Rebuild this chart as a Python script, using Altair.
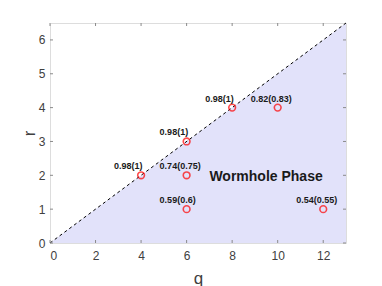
import altair as alt
import pandas as pd

# data
pt_q = [4, 6, 8, 10, 6, 6, 12]
pt_r = [2, 3, 4, 4, 2, 1, 1]
pt_lbl = ["0.98(1)", "0.98(1)", "0.98(1)", "0.82(0.83)", "0.74(0.75)", "0.59(0.6)", "0.54(0.55)"]
line_q = [0, 13]
line_r = [0, 6.5]
xticks = [0, 2, 4, 6, 8, 10, 12]
yticks = [0, 1, 2, 3, 4, 5, 6]
phase_text = ["Wormhole Phase"]
phase_q = [7.0]
phase_r = [1.95]

pts = pd.DataFrame({"q": pt_q, "r": pt_r, "lbl": pt_lbl})
ln = pd.DataFrame({"q": line_q, "r": line_r})
xt = pd.DataFrame({"q": xticks})
yt = pd.DataFrame({"r": yticks})
ph = pd.DataFrame({"q": phase_q, "r": phase_r, "t": phase_text})

FONT = "Liberation Sans"
AX = "#8a8a8a"
LAB = "#404040"

xs = alt.Scale(domain=[0, 13], nice=False, zero=False)
ys = alt.Scale(domain=[0, 6.5], nice=False, zero=False)

xaxis = alt.Axis(values=xticks, ticks=False, domain=False, grid=False, labelOverlap=False,
                 labelFont=FONT, labelFontSize=12, labelColor=LAB, labelPadding=7,
                 title="q", titleFont=FONT, titleFontSize=17, titleFontWeight="normal",
                 titleColor=LAB, titlePadding=9)
yaxis = alt.Axis(values=yticks, ticks=False, domain=False, grid=False, labelOverlap=False,
                 labelFont=FONT, labelFontSize=12, labelColor=LAB, labelPadding=5,
                 title="r", titleFont=FONT, titleFontSize=17, titleFontWeight="normal",
                 titleColor=LAB, titlePadding=0)

X = alt.X("q:Q", scale=xs, axis=xaxis)
Y = alt.Y("r:Q", scale=ys, axis=yaxis)

base = alt.Chart(ln)
area = base.mark_area(color="#e2e2fa", opacity=1).encode(x=X, y=Y)
dash = base.mark_line(color="black", strokeDash=[3, 3], strokeWidth=1).encode(x=X, y=Y)

bx = alt.Chart(xt).mark_rule(color=AX, strokeWidth=1).encode(
    x=X, y=alt.value(220), y2=alt.value(217))
tx = alt.Chart(xt).mark_rule(color=AX, strokeWidth=1).encode(
    x=X, y=alt.value(0), y2=alt.value(3))
ly = alt.Chart(yt).mark_rule(color=AX, strokeWidth=1).encode(
    y=Y, x=alt.value(0), x2=alt.value(3))
ry = alt.Chart(yt).mark_rule(color=AX, strokeWidth=1).encode(
    y=Y, x=alt.value(296), x2=alt.value(293))

circ = alt.Chart(pts).mark_point(shape="circle", color="#ff0000", filled=False,
                                 size=45, strokeWidth=1.6).encode(x=X, y=Y)
lbls = alt.Chart(pts).mark_text(font=FONT, fontSize=9, fontWeight="bold", color="#1a1a1a",
                                align="left", baseline="middle", dx=-27, dy=-9).encode(
    x=X, y=Y, text="lbl:N")
phase = alt.Chart(ph).mark_text(font=FONT, fontSize=14, fontWeight="bold", color="#1a1a1a",
                                align="left", baseline="middle").encode(
    x=X, y=Y, text="t:N")

chart = alt.layer(area, dash, bx, tx, ly, ry, circ, lbls, phase).properties(
    width=296, height=220,
    padding={"left": 12, "top": 13, "right": 5, "bottom": 5},
).configure_view(stroke=AX, strokeWidth=1).configure(background="white")

chart.save("out.html", embed_options={"renderer": "svg", "actions": False})
